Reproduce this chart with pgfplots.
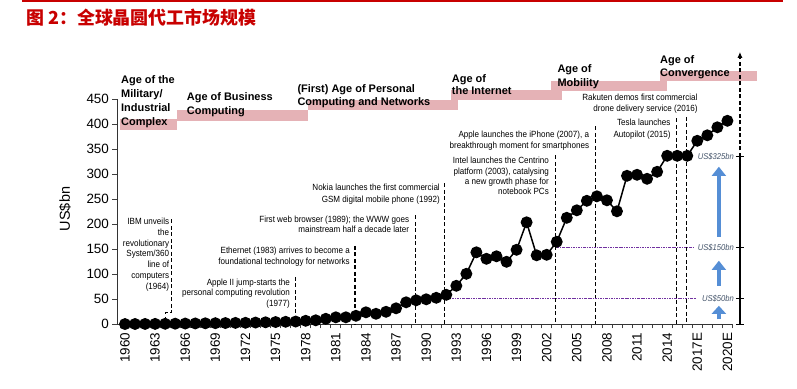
\documentclass[border=0pt]{standalone}
\usepackage{pgfplots}
\pgfplotsset{compat=1.18}
\usetikzlibrary{arrows.meta}
\usepackage{fontspec}
\setmainfont{Liberation Sans}
\newfontfamily\narrow{Liberation Sans}[FakeStretch=0.9]
\newfontfamily\cjk{Noto Sans CJK SC}
\definecolor{band}{RGB}{229,178,182}
\definecolor{arrowblue}{RGB}{85,142,213}
\definecolor{dotpurple}{RGB}{112,48,160}
\definecolor{labgrey}{RGB}{68,84,106}
\definecolor{titlered}{RGB}{200,0,0}
\newcommand{\era}[3]{\node[anchor=base west, inner sep=0, font=\fontsize{11}{13}\selectfont\bfseries] at (#1,#2) {#3};}
\newcommand{\ann}[3]{\node[anchor=base east, inner sep=0, font=\narrow\fontsize{9}{10}\selectfont] at (#1,#2) {#3};}
\newcommand{\usl}[3]{\node[anchor=base east, inner sep=0, text=labgrey, font=\narrow\itshape\fontsize{8.5}{10}\selectfont] at (#1,#2) {#3};}
\begin{document}
\begin{tikzpicture}
\begin{axis}[
  x=10.04bp, y=0.5bp,
  xmin=1959.25, xmax=2020.5, ymin=0, ymax=450,
  axis x line*=bottom, axis y line*=left,
  clip=false,
  xtick={1960,1963,...,2020},
  xticklabels={1960,1963,1966,1969,1972,1975,1978,1981,1984,1987,1990,1993,1996,1999,2002,2005,2008,2011,2014,2017E,2020E},
  minor xtick={1959.5,1960.5,...,2020.5},
  tick align=outside,
  major tick length=5bp, minor tick length=4bp,
  major x tick style={draw=none},
  ytick={0,50,...,450},
  xticklabel style={rotate=90, anchor=east, font=\fontsize{13.5}{13.5}\selectfont},
  yticklabel style={font=\fontsize{13.5}{13.5}\selectfont},
  /pgf/number format/assume math mode=true,
  axis line style={line width=1bp, black!80},
  tick style={black!75, line width=0.8bp},
]
\coordinate (TL) at (axis cs:1947.55,648.6);
\coordinate (BR) at (axis cs:2026.932,-129.4);
% era bands
\fill[band] (axis cs:1959.5,389) rectangle (axis cs:1965.2,410);
\fill[band] (axis cs:1965.2,407) rectangle (axis cs:1978.2,428);
\fill[band] (axis cs:1978.2,428) rectangle (axis cs:1993.2,449);
\fill[band] (axis cs:1992.5,448) rectangle (axis cs:2003.5,469);
\fill[band] (axis cs:2002.4,466) rectangle (axis cs:2014,486);
\fill[band] (axis cs:2013.3,487) rectangle (axis cs:2022.9,507);
% event lines
\draw[black, line width=1.2bp, dash pattern=on 4bp off 2.5bp] (axis cs:1964.65,210) -- (axis cs:1964.65,23) -- (axis cs:1964,23) -- (axis cs:1964,0);
\draw[black, line width=1.2bp, dash pattern=on 4bp off 2.5bp] (axis cs:1977,95) -- (axis cs:1977,0);
\draw[black, line width=1.2bp, dash pattern=on 4bp off 2.5bp] (axis cs:1982.9,157) -- (axis cs:1982.9,0);
\draw[black, line width=1.2bp, dash pattern=on 4bp off 2.5bp] (axis cs:1988.9,218) -- (axis cs:1988.9,0);
\draw[black, line width=1.2bp, dash pattern=on 4bp off 2.5bp] (axis cs:1991.85,282) -- (axis cs:1991.85,0);
\draw[black, line width=1.2bp, dash pattern=on 4bp off 2.5bp] (axis cs:2002.85,338) -- (axis cs:2002.85,0);
\draw[black, line width=1.2bp, dash pattern=on 4bp off 2.5bp] (axis cs:2006.85,396) -- (axis cs:2006.85,0);
\draw[black, line width=1.2bp, dash pattern=on 4bp off 2.5bp] (axis cs:2014.9,412) -- (axis cs:2014.9,0);
\draw[black, line width=1.2bp, dash pattern=on 4bp off 2.5bp] (axis cs:2015.9,415) -- (axis cs:2015.9,0);
% level lines
\draw[dotpurple, line width=0.8bp, dash pattern=on 2.5bp off 1bp on 0.8bp off 1bp] (axis cs:1992,52) -- (axis cs:2016.9,52);
\draw[dotpurple, line width=0.8bp, dash pattern=on 2.5bp off 1bp on 0.8bp off 1bp] (axis cs:2003,154) -- (axis cs:2016.6,154);
% right scale
\draw[black, line width=1.2bp] (axis cs:2021.25,0) -- (axis cs:2021.25,335);
\draw[black, line width=1.2bp, dash pattern=on 4bp off 2.5bp, -{Latex[length=6bp,width=5bp]}] (axis cs:2021.25,335) -- (axis cs:2021.25,545);
\draw[black, line width=1bp] (axis cs:2020.85,0) -- (axis cs:2021.65,0);
\draw[black, line width=1bp] (axis cs:2020.85,52) -- (axis cs:2021.65,52);
\draw[black, line width=1bp] (axis cs:2020.85,154) -- (axis cs:2021.65,154);
\draw[black, line width=1bp] (axis cs:2020.85,335) -- (axis cs:2021.65,335);
% blue arrows
\draw[arrowblue, line width=4bp, -{Triangle[length=8bp,width=14bp]}] (axis cs:2019.15,10) -- (axis cs:2019.15,37);
\draw[arrowblue, line width=4bp, -{Triangle[length=9.3bp,width=14bp]}] (axis cs:2019.15,77.2) -- (axis cs:2019.15,127.2);
\draw[arrowblue, line width=4bp, -{Triangle[length=9.3bp,width=14bp]}] (axis cs:2019.15,175.2) -- (axis cs:2019.15,315.2);
\addplot[black, line width=1.5bp, mark=*, mark size=5.2bp, mark options={fill=black, solid}] table {
1960 0.5
1961 0.6
1962 0.7
1963 0.8
1964 1
1965 1.2
1966 1.5
1967 1.7
1968 2
1969 2.2
1970 2.5
1971 2.8
1972 3
1973 3.5
1974 4
1975 4.5
1976 5
1977 5.5
1978 7
1979 8
1980 11
1981 14
1982 14
1983 17
1984 24
1985 21
1986 25
1987 32
1988 44
1989 48
1990 50
1991 53
1992 59
1993 77
1994 101
1995 144
1996 131
1997 136
1998 125
1999 149
2000 204
2001 138
2002 139
2003 165
2004 213
2005 228
2006 247
2007 256
2008 248
2009 226
2010 297
2011 299
2012 291
2013 305
2014 337
2015 337
2016 337
2017 367
2018 378
2019 394
2020 407
};
\end{axis}
\begin{scope}[shift={(TL)}, x=1bp, y=-1bp]
\draw[titlered, line width=1.5bp] (22,1) -- (783,1);
\node[anchor=west, inner sep=0, text=titlered, font=\cjk\bfseries\fontsize{18}{20}\selectfont] at (26,17.5) {图 2：全球晶圆代工市场规模};
\node[rotate=90, inner sep=0, font=\fontsize{14.5}{14.5}\selectfont] at (65,209) {US\$bn};
\era{121}{83.5}{Age of the}
\era{121}{97.5}{Military/}
\era{121}{111.5}{Industrial}
\era{121}{125.5}{Complex}
\era{186.7}{100.5}{Age of Business}
\era{186.7}{115}{Computing}
\era{297.3}{92.3}{(First) Age of Personal}
\era{297.3}{105.7}{Computing and Networks}
\era{451.7}{82.3}{Age of}
\era{451.7}{95}{the Internet}
\era{557.3}{72.3}{Age of}
\era{557.3}{86.3}{Mobility}
\era{660}{63.3}{Age of}
\era{660}{76.7}{Convergence}
\ann{169.3}{224.9}{IBM unveils}
\ann{169.3}{235.6}{the}
\ann{169.3}{246.3}{revolutionary}
\ann{169.3}{257}{System/360}
\ann{169.3}{267.7}{line of}
\ann{169.3}{278.4}{computers}
\ann{169.3}{289.1}{(1964)}
\ann{290}{285.5}{Apple II jump-starts the}
\ann{290}{295.5}{personal computing revolution}
\ann{290}{306.2}{(1977)}
\ann{350}{253.2}{Ethernet (1983) arrives to become a}
\ann{350}{264.2}{foundational technology for networks}
\ann{409.3}{222.5}{First web browser (1989); the WWW goes}
\ann{409.3}{232.5}{mainstream half a decade later}
\ann{440}{190.5}{Nokia launches the first commercial}
\ann{440}{202.2}{GSM digital mobile phone (1992)}
\ann{549}{163.9}{Intel launches the Centrino}
\ann{549}{174.5}{platform (2003), catalysing}
\ann{549}{184.9}{a new growth phase for}
\ann{549}{194.9}{notebook PCs}
\ann{589.3}{137.5}{Apple launches the iPhone (2007), a}
\ann{589.3}{148.2}{breakthrough moment for smartphones}
\ann{670.7}{125.5}{Tesla launches}
\ann{670.7}{137.2}{Autopilot (2015)}
\ann{697.7}{100.5}{Rakuten demos first commercial}
\ann{697.7}{111.5}{drone delivery service (2016)}
\usl{734}{159.7}{US\$325bn}
\usl{734}{250.3}{US\$150bn}
\usl{734}{301.3}{US\$50bn}
\end{scope}
\pgfresetboundingbox
\path[use as bounding box] (TL) rectangle (BR);
\end{tikzpicture}
\end{document}
